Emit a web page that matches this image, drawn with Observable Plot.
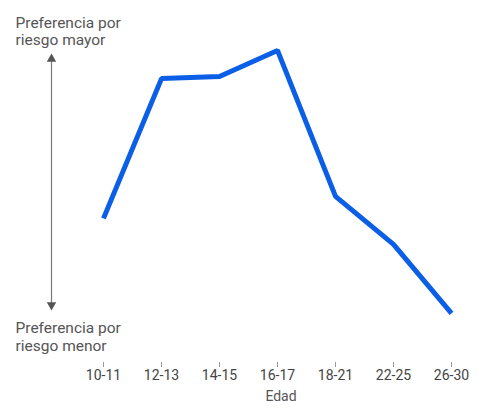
<!DOCTYPE html>
<html>
<head>
<meta charset="utf-8">
<script src="https://cdn.jsdelivr.net/npm/d3@7"></script>
<script src="https://cdn.jsdelivr.net/npm/@observablehq/plot@0.6"></script>
<style>
  html, body { margin: 0; padding: 0; background: #fff; }
</style>
</head>
<body>
<div id="chart"></div>
<script>
const ages = ["10-11", "12-13", "14-15", "16-17", "18-21", "22-25", "26-30"];
const riesgo = [53.7, 105.8, 106.6, 116.3, 61.9, 44.0, 18.3];
const topLabel = "Preferencia por\nriesgo mayor";
const bottomLabel = "Preferencia por\nriesgo menor";
const xTitle = "Edad";
const arrowEnds = [113.1, 21.4];

const data = ages.map((a, i) => ({edad: a, valor: riesgo[i]}));
const font = "Roboto, 'Liberation Sans', sans-serif";

const chart = Plot.plot({
  width: 481,
  height: 412,
  marginLeft: 101,
  marginRight: 29,
  marginTop: 40,
  marginBottom: 50,
  style: {fontFamily: font, fontSize: "14px", background: "#fff", color: "#444"},
  x: {type: "point", domain: ages, padding: 0, label: null},
  y: {domain: [0, 120], axis: null},
  marks: [
    Plot.axisX({tickSize: 5, tickPadding: 3, fontSize: 14, stroke: "#999", fill: "#444", label: null}),
    Plot.ruleX([ages[0]], {y1: arrowEnds[0], y2: arrowEnds[1], dx: -52, stroke: "#777", strokeWidth: 1.2}),
    Plot.dot(arrowEnds, {x: () => ages[0], y: d => d, symbol: "triangle", rotate: (d, i) => i === 0 ? 0 : 180, r: 3.5, fill: "#555", stroke: "none", dx: -52}),
    Plot.text([topLabel], {frameAnchor: "top-left", textAnchor: "start", lineAnchor: "top", dx: -86, dy: -25, fontSize: 15.5, fill: "#555", lineHeight: 1.1}),
    Plot.text([bottomLabel], {frameAnchor: "bottom-left", textAnchor: "start", lineAnchor: "bottom", dx: -86, dy: -12, fontSize: 15.5, fill: "#555", lineHeight: 1.1}),
    Plot.text([xTitle], {frameAnchor: "bottom", dx: 4, dy: 38, fontSize: 14, fill: "#555"}),
    Plot.line(data, {x: "edad", y: "valor", stroke: "#0a5fe6", strokeWidth: 5, strokeLinejoin: "miter", strokeLinecap: "butt"})
  ]
});
document.getElementById("chart").appendChild(chart);
</script>
</body>
</html>
